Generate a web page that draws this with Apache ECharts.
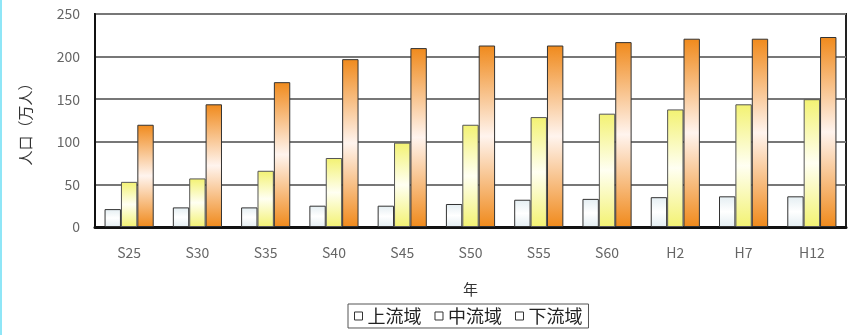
<!DOCTYPE html>
<html>
<head>
<meta charset="utf-8">
<script src="https://cdn.jsdelivr.net/npm/echarts@6/dist/echarts.min.js"></script>
<style>
  html, body { margin: 0; padding: 0; background: #fff; }
  #chart { width: 850px; height: 335px; border-left: 2px solid #8fe6f7; }
</style>
</head>
<body>
<div id="chart"></div>
<script>
// 年
const years = ['S25', 'S30', 'S35', 'S40', 'S45', 'S50', 'S55', 'S60', 'H2', 'H7', 'H12']
// 人口（万人）
const upperBasin = [21, 23, 23, 25, 25, 27, 32, 33, 35, 36, 36]
const middleBasin = [53, 57, 66, 81, 99, 120, 129, 133, 138, 144, 150]
const lowerBasin = [120, 144, 170, 197, 210, 213, 213, 217, 221, 221, 223]
const yTicks = { min: 0, max: 250, interval: 50 }

const chart = echarts.init(document.getElementById('chart'))

function grad(edge, mid) {
  return new echarts.graphic.LinearGradient(0, 0, 0, 1, [
    { offset: 0, color: edge },
    { offset: 0.5, color: mid },
    { offset: 1, color: edge }
  ])
}

const barBase = {
  type: 'bar',
  barGap: 0,
  barCategoryGap: '28%',
  emphasis: { disabled: true }
}

chart.setOption({
  animation: false,
  textStyle: { fontFamily: 'Noto Sans CJK JP' },
  grid: {
    left: 93,
    right: 6,
    top: 14,
    bottom: 108,
    show: true,
    borderColor: '#222',
    borderWidth: 2
  },
  legend: {
    left: 346,
    top: 304,
    padding: [3, 6],
    itemGap: 13,
    itemWidth: 8,
    itemHeight: 8,
    icon: 'rect',
    borderColor: '#555',
    borderWidth: 1,
    borderRadius: 0,
    itemStyle: { color: '#fff', borderColor: '#333', borderWidth: 1 },
    textStyle: { color: '#222', fontSize: 18 },
    data: ['上流域', '中流域', '下流域']
  },
  xAxis: {
    type: 'category',
    data: years,
    name: '年',
    nameLocation: 'middle',
    nameGap: 55,
    nameTextStyle: { color: '#333', fontSize: 15 },
    axisLine: { lineStyle: { color: '#111', width: 3 } },
    axisTick: { show: false },
    axisLabel: { color: '#666', fontSize: 14, margin: 19 }
  },
  yAxis: {
    type: 'value',
    min: yTicks.min,
    max: yTicks.max,
    interval: yTicks.interval,
    name: '人口（万人）',
    nameLocation: 'middle',
    nameGap: 62,
    nameTextStyle: { color: '#333', fontSize: 15 },
    axisLine: { show: true, lineStyle: { color: '#111', width: 2 } },
    axisTick: { show: false },
    axisLabel: { color: '#666', fontSize: 14, margin: 15 },
    splitLine: { lineStyle: { color: '#777', width: 2 } }
  },
  series: [
    Object.assign({}, barBase, {
      name: '上流域',
      data: upperBasin,
      itemStyle: { color: grad('#e4eef2', '#ffffff'), borderColor: '#333', borderWidth: 1 }
    }),
    Object.assign({}, barBase, {
      name: '中流域',
      data: middleBasin,
      itemStyle: { color: grad('#f3f272', '#fffff2'), borderColor: '#555', borderWidth: 1 }
    }),
    Object.assign({}, barBase, {
      name: '下流域',
      data: lowerBasin,
      itemStyle: { color: grad('#f08a1c', '#fff4ee'), borderColor: '#333', borderWidth: 1 }
    })
  ]
})
</script>
</body>
</html>
